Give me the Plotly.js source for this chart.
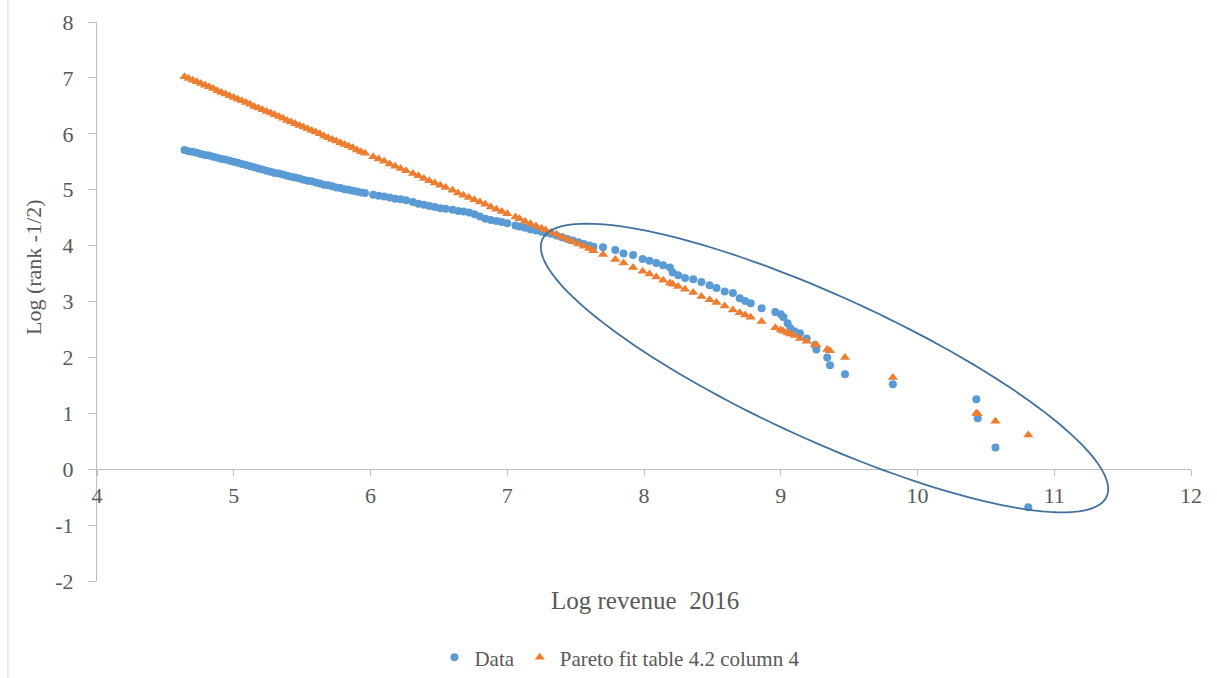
<!DOCTYPE html>
<html>
<head>
<meta charset="utf-8">
<script src="https://cdn.plot.ly/plotly-3.0.1.min.js"></script>
<style>html,body{margin:0;padding:0;background:#fff;}#chart{width:1217px;height:678px;}</style>
</head>
<body>
<div id="chart"></div>
<script>
// Log revenue 2016 (x) for each firm
const logRevenue = [
4.64,4.67,4.70,4.73,4.76,4.79,4.82,4.85,4.88,4.91,4.94,4.97,5.00,5.03,5.06,5.09,5.12,5.15,5.18,5.21,5.24,5.27,5.30,5.33,5.36,5.39,5.42,5.45,5.48,5.51,5.54,5.57,5.60,5.63,5.66,5.69,5.72,5.75,5.78,5.81,5.84,5.87,5.90,5.93,5.96,
6.02,6.06,6.10,6.14,6.18,6.22,6.26,
6.31,6.35,6.39,6.43,6.47,6.51,6.55,
6.60,6.64,6.68,6.72,6.76,6.80,6.84,6.88,6.92,6.96,
7.00,7.06,7.09,7.13,7.17,7.21,7.25,7.28,
7.32,7.36,7.40,7.44,7.48,7.52,7.56,7.60,7.63,
7.70,7.79,7.85,7.92,7.99,8.04,8.09,8.14,8.19,8.21,8.25,8.30,8.36,8.42,8.48,8.53,8.59,8.65,8.70,8.74,
8.78,8.86,8.96,9.00,9.02,9.05,9.07,9.10,9.14,9.19,9.25,9.26,9.34,9.36,9.47,9.82,10.43,10.44,10.57,10.81
];
// Data: Log (rank - 1/2)
const logRankData = [
5.71,5.69,5.68,5.66,5.64,5.62,5.61,5.59,5.57,5.55,5.54,5.52,5.50,5.48,5.46,5.44,5.42,5.40,5.38,5.36,5.34,5.32,5.30,5.29,5.27,5.25,5.23,5.22,5.20,5.18,5.16,5.15,5.13,5.11,5.09,5.08,5.06,5.04,5.03,5.01,5.00,4.98,4.97,4.95,4.94,
4.91,4.89,4.88,4.86,4.84,4.83,4.81,
4.78,4.75,4.73,4.71,4.69,4.67,4.66,
4.64,4.62,4.61,4.59,4.56,4.52,4.48,4.46,4.44,4.42,
4.40,4.36,4.34,4.32,4.29,4.27,4.25,4.23,
4.21,4.18,4.15,4.12,4.09,4.06,4.03,4.00,3.98,
3.97,3.92,3.86,3.83,3.76,3.73,3.69,3.65,3.61,3.52,3.47,3.42,3.40,3.35,3.29,3.24,3.18,3.15,3.06,3.01,
2.97,2.88,2.81,2.77,2.72,2.61,2.52,2.47,2.43,2.34,2.22,2.14,2.00,1.86,1.70,1.52,1.25,0.91,0.39,-0.68
];
// Pareto fit table 4.2 column 4
const logRankFit = [
7.02,6.99,6.96,6.93,6.90,6.87,6.84,6.81,6.77,6.74,6.71,6.68,6.65,6.62,6.59,6.56,6.53,6.49,6.46,6.43,6.40,6.37,6.34,6.31,6.28,6.24,6.21,6.18,6.15,6.12,6.09,6.06,6.03,6.00,5.96,5.93,5.90,5.87,5.84,5.81,5.78,5.75,5.71,5.68,5.65,
5.59,5.55,5.51,5.46,5.42,5.38,5.34,
5.29,5.25,5.20,5.16,5.12,5.08,5.04,
4.99,4.94,4.90,4.86,4.82,4.78,4.74,4.69,4.65,4.61,
4.57,4.51,4.48,4.43,4.39,4.35,4.31,4.28,
4.24,4.20,4.15,4.11,4.07,4.03,3.99,3.95,3.91,
3.84,3.75,3.69,3.61,3.54,3.49,3.44,3.38,3.33,3.31,3.27,3.22,3.16,3.09,3.03,2.98,2.92,2.85,2.80,2.76,
2.72,2.64,2.53,2.49,2.47,2.44,2.42,2.39,2.34,2.29,2.23,2.22,2.14,2.12,2.00,1.64,1.00,0.99,0.86,0.61
];
const xTicks = [4,5,6,7,8,9,10,11,12];
const xTickLabels = ['4','5','6','7','8','9','10','11','12'];
const yTicks = [-2,-1,0,1,2,3,4,5,6,7,8];
const yTickLabels = ['-2','-1','0','1','2','3','4','5','6','7','8'];
const seriesNames = ['Data', 'Pareto fit table 4.2 column 4'];

// highlight ellipse (centre and conjugate semi-axes, in data units)
const ellipse = {cx: 9.32, cy: 1.81, ux: 2.063, uy: -2.301, vx: -0.2185, vy: -1.172};
function ellipsePath(e, n) {
  let p = '';
  for (let i = 0; i <= n; i++) {
    const t = 2 * Math.PI * i / n;
    const x = e.cx + e.ux * Math.cos(t) + e.vx * Math.sin(t);
    const y = e.cy + e.uy * Math.cos(t) + e.vy * Math.sin(t);
    p += (i === 0 ? 'M' : 'L') + x.toFixed(4) + ',' + y.toFixed(4);
  }
  return p + 'Z';
}

const FONT = 'Liberation Serif';
const GREY = '#595959';
const AXIS = '#BFBFBF';

const traces = [
  {type: 'scatter', mode: 'markers', name: seriesNames[0], x: logRevenue, y: logRankData,
   marker: {symbol: 'circle', size: 8, color: '#5B9BD5'}},
  {type: 'scatter', mode: 'markers', name: seriesNames[1], x: logRevenue, y: logRankFit,
   marker: {symbol: 'triangle-up', size: 9, color: '#ED7D31'}}
];

const layout = {
  width: 1217, height: 678,
  margin: {l: 97, r: 26, t: 22, b: 97, autoexpand: false},
  paper_bgcolor: '#ffffff', plot_bgcolor: '#ffffff',
  font: {family: FONT, color: GREY},
  showlegend: true,
  legend: {orientation: 'h', xref: 'container', yref: 'container', x: 0.509, xanchor: 'center',
           y: 0.03, yanchor: 'middle', font: {family: FONT, size: 21, color: GREY},
           itemwidth: 30, tracegroupgap: 0},
  xaxis: {range: [4, 12], anchor: 'free', position: 0.2, tickvals: xTicks, ticktext: xTickLabels,
          showline: true, linecolor: AXIS, linewidth: 1, ticks: 'outside', ticklen: 6,
          tickcolor: AXIS, showgrid: false, zeroline: false, fixedrange: true,
          tickfont: {family: FONT, size: 22, color: GREY}},
  yaxis: {range: [-2, 8], tickvals: yTicks, ticktext: yTickLabels, showline: true, linecolor: AXIS, linewidth: 1,
          ticks: 'outside', ticklen: 8, tickcolor: AXIS, showgrid: false, zeroline: false,
          fixedrange: true, ticklabelstandoff: 10,
          tickfont: {family: FONT, size: 22, color: GREY}},
  annotations: [
    {text: 'Log revenue  2016', xref: 'paper', yref: 'paper', x: 0.501, y: -0.034,
     xanchor: 'center', yanchor: 'middle', showarrow: false,
     font: {family: FONT, size: 25, color: GREY}},
    {text: 'Log (rank -1/2)', xref: 'paper', yref: 'paper', x: -0.0585, y: 0.5617,
     xanchor: 'center', yanchor: 'middle', textangle: -90, showarrow: false,
     font: {family: FONT, size: 22, color: GREY}}
  ],
  shapes: [
    {type: 'path', xref: 'x', yref: 'y', path: ellipsePath(ellipse, 160),
     line: {color: '#41719C', width: 1.8}, fillcolor: 'rgba(0,0,0,0)', layer: 'above'},
    {type: 'line', xref: 'paper', yref: 'paper', x0: -0.0814, x1: -0.0814, y0: -0.18, y1: 1.05,
     line: {color: '#D9D9D9', width: 1}}
  ]
};

Plotly.newPlot('chart', traces, layout, {displayModeBar: false, staticPlot: true});
</script>
</body>
</html>
